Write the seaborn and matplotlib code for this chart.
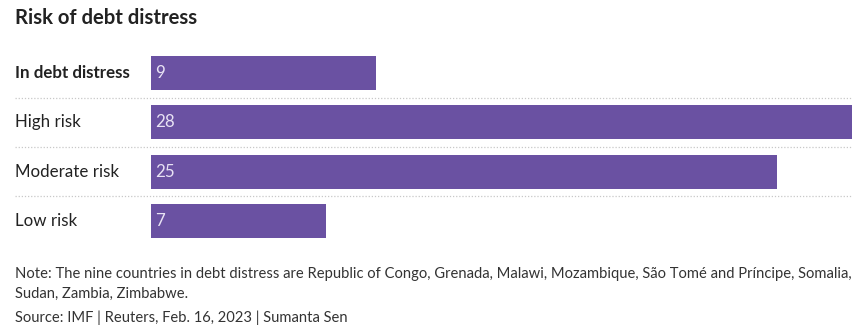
import matplotlib
matplotlib.use("Agg")
import matplotlib.pyplot as plt
import seaborn as sns
import pandas as pd

categories = ["In debt distress", "High risk", "Moderate risk", "Low risk"]
counts = [9, 28, 25, 7]

title = "Risk of debt distress"
note = ("Note: The nine countries in debt distress are Republic of Congo, Grenada, Malawi, Mozambique, "
        "São Tomé and Príncipe, Somalia,\nSudan, Zambia, Zimbabwe.")
source = "Source: IMF | Reuters, Feb. 16, 2023 | Sumanta Sen"

sns.set_theme(style="white")
plt.rcParams["font.family"] = ["Lato", "DejaVu Sans"]

W, H = 863, 333
fig = plt.figure(figsize=(W / 100, H / 100), dpi=100)
ax = fig.add_axes([151 / W, 1 - 245.7 / H, 701 / W, (245.7 - 48.3) / H])

df = pd.DataFrame({"category": categories, "count": counts})
bar_color = "#6a51a2"
sns.barplot(data=df, x="count", y="category", orient="h", color=bar_color,
            width=0.69, saturation=1, linewidth=0, edgecolor="none", ax=ax)

ax.set_xlim(0, max(counts))
ax.set_ylim(len(categories) - 0.5, -0.5)
ax.set_xlabel("")
ax.set_ylabel("")
ax.set_xticks([])
ax.set_yticks([])
for s in ax.spines.values():
    s.set_visible(False)

# dotted separators between rows, extending under the row labels
for i in range(len(categories) - 1):
    ax.axhline(i + 0.5, xmin=-136 / 701, xmax=1, color="#c8c8c8",
               linestyle=(0, (1, 1.5)), linewidth=0.9, clip_on=False)

# row labels on the left
for i, cat in enumerate(categories):
    ax.text(-136 / 701, i, cat, transform=ax.get_yaxis_transform(),
            ha="left", va="center", fontsize=12.2, color="#222222",
            fontweight="bold" if i == 0 else "normal")

# value labels inside the bars
for i, v in enumerate(df["count"]):
    ax.text(0.15, i, str(v), ha="left", va="center", fontsize=12.2,
            color="#e8e2f4", fontweight="normal", zorder=5)

fig.text(15 / W, 1 - 18 / H, title, ha="left", va="center",
         fontsize=14.6, fontweight="bold", color="#222222")
fig.text(15 / W, 1 - 284 / H, note, ha="left", va="center",
         fontsize=10.6, color="#333333", linespacing=1.5)
fig.text(15 / W, 1 - 318 / H, source, ha="left", va="center",
         fontsize=10.6, color="#333333")

fig.savefig("out.png", dpi=100, facecolor="white")
